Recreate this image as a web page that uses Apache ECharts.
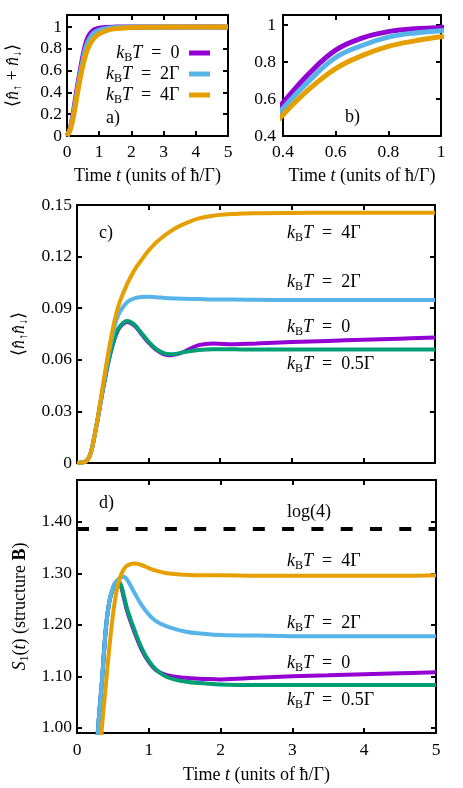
<!DOCTYPE html>
<html>
<head>
<meta charset="utf-8">
<script src="https://cdn.jsdelivr.net/npm/echarts@6/dist/echarts.min.js"></script>
<style>
  html, body { margin: 0; background: #fff; }
  #chart { width: 463px; height: 788px; }
</style>
</head>
<body>
<div id="chart"></div>
<script>
// panels a) and b): total occupation (b is a zoom of a)
const tA = [0, 0.1, 0.2, 0.3, 0.4, 0.5, 0.6, 0.7, 0.8, 0.9, 1.0, 1.2, 1.5, 2, 2.5, 3, 4, 5]
const occT0 = [0, 0.07, 0.22, 0.41, 0.58, 0.74, 0.865, 0.93, 0.965, 0.98, 0.988, 0.996, 0.999, 1, 1, 1, 1, 1]
const occT2 = [0, 0.065, 0.2, 0.38, 0.55, 0.70, 0.825, 0.89, 0.935, 0.958, 0.97, 0.985, 0.995, 0.999, 1, 1, 1, 1]
const occT4 = [0, 0.06, 0.18, 0.35, 0.515, 0.655, 0.765, 0.835, 0.885, 0.915, 0.937, 0.965, 0.985, 0.995, 0.998, 0.999, 1, 1]

// panel c): double occupation
const tC = [0, 0.1, 0.15, 0.2, 0.25, 0.3, 0.35, 0.4, 0.45, 0.5, 0.55, 0.6, 0.7, 0.8, 0.9, 1.0, 1.1, 1.2, 1.3, 1.4, 1.5, 1.7, 1.9, 2.2, 2.5, 3, 3.5, 4, 4.5, 5]
const dblT0 = [0, 0.0005, 0.002, 0.007, 0.017, 0.028, 0.04, 0.051, 0.061, 0.069, 0.075, 0.079, 0.082, 0.080, 0.075, 0.070, 0.066, 0.0635, 0.0627, 0.0633, 0.0648, 0.0685, 0.0695, 0.069, 0.0695, 0.0703, 0.071, 0.0717, 0.0723, 0.0729]
const dblT05 = [0, 0.0005, 0.002, 0.007, 0.017, 0.028, 0.04, 0.051, 0.061, 0.069, 0.0755, 0.0795, 0.0825, 0.0805, 0.0755, 0.0705, 0.0665, 0.064, 0.0632, 0.0636, 0.0645, 0.0657, 0.0662, 0.0661, 0.066, 0.066, 0.066, 0.066, 0.066, 0.066]
const dblT2 = [0, 0.0005, 0.002, 0.007, 0.017, 0.028, 0.041, 0.053, 0.065, 0.075, 0.083, 0.088, 0.0935, 0.0957, 0.0965, 0.0966, 0.0964, 0.0961, 0.0958, 0.0956, 0.0955, 0.0953, 0.0951, 0.095, 0.0949, 0.0948, 0.0948, 0.0947, 0.0947, 0.0947]
const dblT4 = [0, 0.0005, 0.002, 0.007, 0.017, 0.029, 0.042, 0.055, 0.067, 0.078, 0.087, 0.094, 0.104, 0.112, 0.118, 0.1235, 0.128, 0.1315, 0.1345, 0.137, 0.139, 0.1422, 0.1438, 0.1448, 0.1452, 0.1454, 0.1455, 0.1455, 0.1455, 0.1455]

// panel d): entropy S1(t)
const tD = [0, 0.1, 0.2, 0.25, 0.3, 0.35, 0.4, 0.45, 0.5, 0.55, 0.6, 0.65, 0.7, 0.8, 0.9, 1.0, 1.1, 1.25, 1.5, 1.8, 2.0, 2.5, 3, 3.5, 4, 4.5, 5]
const entT0 = [0, 0.3, 0.7, 0.9, 1.01, 1.095, 1.19, 1.245, 1.27, 1.282, 1.279, 1.254, 1.226, 1.186, 1.152, 1.128, 1.112, 1.102, 1.097, 1.095, 1.094, 1.097, 1.100, 1.102, 1.104, 1.106, 1.108]
const entT05 = [0, 0.3, 0.7, 0.9, 1.01, 1.095, 1.19, 1.245, 1.27, 1.283, 1.281, 1.258, 1.23, 1.19, 1.155, 1.13, 1.113, 1.099, 1.09, 1.086, 1.084, 1.083, 1.083, 1.083, 1.083, 1.083, 1.083]
const entT2 = [0, 0.3, 0.7, 0.9, 1.01, 1.095, 1.19, 1.245, 1.272, 1.285, 1.291, 1.293, 1.287, 1.262, 1.238, 1.22, 1.207, 1.197, 1.187, 1.182, 1.18, 1.179, 1.178, 1.178, 1.178, 1.178, 1.178]
const entT4 = [0, 0.2, 0.55, 0.72, 0.9, 1.005, 1.08, 1.155, 1.218, 1.265, 1.292, 1.307, 1.315, 1.319, 1.316, 1.31, 1.305, 1.300, 1.297, 1.296, 1.296, 1.295, 1.295, 1.295, 1.295, 1.295, 1.296]
const log4 = 1.386

// tick values
const ticksTime = [0, 1, 2, 3, 4, 5]
const ticksZoomT = [0.4, 0.6, 0.8, 1]
const ticksOccA = [0, 0.2, 0.4, 0.6, 0.8, 1]
const ticksOccB = [0.4, 0.6, 0.8, 1]
const ticksDbl = [0, 0.03, 0.06, 0.09, 0.12, 0.15]
const ticksEnt = [1.0, 1.1, 1.2, 1.3, 1.4]

const FONT = 'Liberation Serif'
const FS = 18
const C_T0 = '#9400d3', C_T05 = '#009e73', C_T2 = '#56b4e9', C_T4 = '#e69f00'

const RICH = {
  i: { fontFamily: FONT, fontSize: FS, fontStyle: 'italic', color: '#000' },
  s: { fontFamily: FONT, fontSize: 12, color: '#000', padding: [9, 0, 0, 0] },
  b: { fontFamily: FONT, fontSize: FS, fontWeight: 'bold', color: '#000' }
}
const EQ = '\u2002=\u2002'
const kbt = v => '{i|k}{s|B}{i|T}' + EQ + v
const LABEL = { t0: kbt('0'), t05: kbt('0.5Γ'), t2: kbt('2Γ'), t4: kbt('4Γ') }
const TIME_NAME = 'Time {i|t} (units of ħ/Γ)'

const grids = [
  { left: 67, top: 15, width: 161, height: 121 },
  { left: 283, top: 15, width: 158, height: 121 },
  { left: 77, top: 205, width: 358, height: 258 },
  { left: 77, top: 480, width: 359, height: 253 }
]

function axis(grid, pos, min, max, ticks, o = {}) {
  return {
    type: 'value', gridIndex: grid, position: pos, min, max,
    axisLine: { show: true, onZero: false, lineStyle: { color: '#000', width: 2 } },
    axisTick: { show: true, inside: true, length: 5, customValues: ticks, lineStyle: { color: '#000', width: 2 } },
    axisLabel: {
      show: !!o.fmt, customValues: ticks, formatter: o.fmt, margin: o.margin || 6,
      color: '#000', fontFamily: FONT, fontSize: 17.5
    },
    splitLine: { show: false },
    name: o.name || '', nameLocation: 'middle', nameGap: o.gap || 30, nameRotate: o.rotate || 0,
    nameTextStyle: { fontFamily: FONT, fontSize: FS, color: '#000', rich: RICH }
  }
}
const plain = v => String(v)

const xAxis = [
  axis(0, 'bottom', 0, 5, ticksTime, { fmt: plain, margin: 7, name: TIME_NAME, gap: 31 }),
  axis(0, 'top', 0, 5, ticksTime),
  axis(1, 'bottom', 0.4, 1, ticksZoomT, { fmt: plain, margin: 7, name: TIME_NAME, gap: 31 }),
  axis(1, 'top', 0.4, 1, ticksZoomT),
  axis(2, 'bottom', 0, 5, ticksTime),
  axis(2, 'top', 0, 5, ticksTime),
  axis(3, 'bottom', 0, 5, ticksTime, { fmt: plain, margin: 8, name: TIME_NAME, gap: 33 }),
  axis(3, 'top', 0, 5, ticksTime)
]
const yAxis = [
  axis(0, 'left', 0, 1.11, ticksOccA, { fmt: plain, margin: 5, name: '⟨{i|n̂}{s|↑} + {i|n̂}{s|↓}⟩', gap: 43, rotate: 90 }),
  axis(0, 'right', 0, 1.11, ticksOccA),
  axis(1, 'left', 0.4, 1.055, ticksOccB, { fmt: plain, margin: 7 }),
  axis(1, 'right', 0.4, 1.055, ticksOccB),
  axis(2, 'left', 0, 0.15, ticksDbl, { fmt: plain, margin: 5, name: '⟨{i|n̂}{s|↑}{i|n̂}{s|↓}⟩', gap: 47, rotate: 90 }),
  axis(2, 'right', 0, 0.15, ticksDbl),
  axis(3, 'left', 0.99, 1.481, ticksEnt, { fmt: v => v.toFixed(2), margin: 5, name: '{i|S}{s|1}({i|t}) (structure {b|B})', gap: 41, rotate: 90 }),
  axis(3, 'right', 0.99, 1.481, ticksEnt)
]

function line(name, color, xs, ys, ax, width) {
  return {
    type: 'line', name, xAxisIndex: ax, yAxisIndex: ax,
    data: xs.map((t, i) => [t, ys[i]]),
    showSymbol: false, smooth: 0.4, clip: true, silent: true,
    lineStyle: { color, width }, itemStyle: { color }
  }
}

const series = []
for (const ax of [0, 2]) {
  series.push(line('t0', C_T0, tA, occT0, ax, 5))
  series.push(line('t2', C_T2, tA, occT2, ax, 5))
  series.push(line('t4', C_T4, tA, occT4, ax, 5))
}
series.push(line('t0', C_T0, tC, dblT0, 4, 4))
series.push(line('t05', C_T05, tC, dblT05, 4, 4))
series.push(line('t2', C_T2, tC, dblT2, 4, 4))
series.push(line('t4', C_T4, tC, dblT4, 4, 4))
series.push({
  type: 'line', name: 'log4', xAxisIndex: 6, yAxisIndex: 6, data: [[0, log4], [5, log4]],
  showSymbol: false, silent: true,
  lineStyle: { color: '#000', width: 4, type: [12, 17.3], cap: 'butt' }
})
series.push(line('t0', C_T0, tD, entT0, 6, 4))
series.push(line('t05', C_T05, tD, entT05, 6, 4))
series.push(line('t2', C_T2, tD, entT2, 6, 4))
series.push(line('t4', C_T4, tD, entT4, 6, 4))

const legend = ['t0', 't2', 't4'].map((n, i) => ({
  data: [n], right: 253, top: 44 + i * 21, align: 'right', orient: 'horizontal',
  icon: 'rect', itemWidth: 21, itemHeight: 5, selectedMode: false, padding: 0,
  formatter: LABEL[n] + ' ',
  textStyle: { fontFamily: FONT, fontSize: FS, color: '#000', rich: RICH }
}))

// annotations, placed by their vertical centre
const txt = (x, y, text) => ({
  type: 'text', x, y, silent: true,
  style: { text, rich: RICH, fill: '#000', font: FS + 'px "' + FONT + '"', verticalAlign: 'middle' }
})
const graphic = [
  txt(106, 118, 'a)'),
  txt(345, 117, 'b)'),
  txt(99, 233, 'c)'),
  txt(287, 233, LABEL.t4),
  txt(287, 282, LABEL.t2),
  txt(287, 327, LABEL.t0),
  txt(287, 364, LABEL.t05),
  txt(99, 503, 'd)'),
  txt(287, 512, 'log(4)'),
  txt(287, 561, LABEL.t4),
  txt(287, 623, LABEL.t2),
  txt(287, 663, LABEL.t0),
  txt(287, 700, LABEL.t05)
]

const chart = echarts.init(document.getElementById('chart'))
chart.setOption({
  animation: false,
  backgroundColor: '#fff',
  grid: grids,
  xAxis, yAxis, series, legend, graphic
})
</script>
</body>
</html>
